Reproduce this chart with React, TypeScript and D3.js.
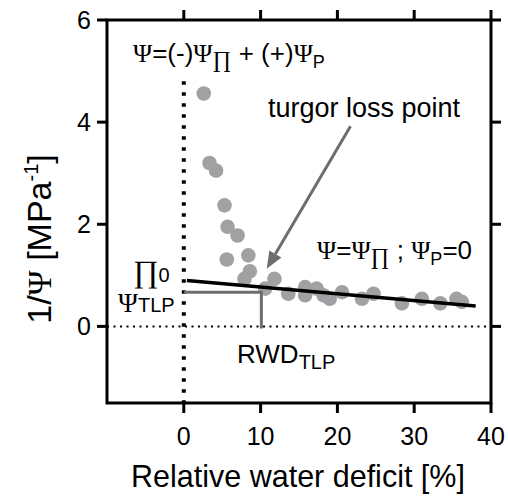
import React from 'react';
import * as d3 from 'd3';

// relative water deficit [%] and 1/psi [MPa^-1]
const rwd = [2.6, 3.35, 4.2, 5.3, 5.7, 7.0, 5.6, 8.4, 8.6, 7.9, 11.8, 10.6, 13.6, 15.8, 15.8, 17.3, 18.2, 19.0, 20.6, 23.2, 24.7, 28.4, 31.0, 33.4, 35.5, 36.2];
const invPsi = [4.56, 3.2, 3.05, 2.37, 1.95, 1.78, 1.31, 1.39, 1.08, 0.93, 0.93, 0.74, 0.64, 0.77, 0.61, 0.74, 0.61, 0.54, 0.67, 0.54, 0.64, 0.45, 0.54, 0.45, 0.54, 0.48];

// linear fit through the osmotic part
const fitIntercept = 0.905;
const fitSlope = -0.0133;
const fitRange = [0.4, 38];

// turgor loss point
const rwdTlp = 10.1;
const psiTlp = 0.67;

// arrow from label to the tlp
const arrowFrom = [21.7, 3.92];
const arrowTo = [10.8, 1.13];

const xTicks = [0, 10, 20, 30, 40];
const yTicks = [0, 2, 4, 6];

const SANS = 'Liberation Sans, Arial, sans-serif';
const SERIF = 'Liberation Serif, Times New Roman, serif';

export default function App() {
    const x = d3.scaleLinear().domain([-10, 40]).range([107, 491]);
    const y = d3.scaleLinear().domain([-1.5, 6]).range([403, 20]);

    const [x0, x1] = x.range();
    const [yb, yt] = y.range();
    const tick = 10;

    const fitLine = d3.line<number>()
        .x(d => x(d))
        .y(d => y(fitIntercept + fitSlope * d));

    // arrow head geometry
    const ax1 = x(arrowFrom[0]), ay1 = y(arrowFrom[1]);
    const ax2 = x(arrowTo[0]), ay2 = y(arrowTo[1]);
    const ang = Math.atan2(ay2 - ay1, ax2 - ax1);
    const headLen = 17, headW = 7;
    const bx = ax2 - headLen * Math.cos(ang), by = ay2 - headLen * Math.sin(ang);
    const head = [
        [ax2, ay2],
        [bx + headW * Math.sin(ang), by - headW * Math.cos(ang)],
        [bx - headW * Math.sin(ang), by + headW * Math.cos(ang)],
    ];

    return (
        <svg width={508} height={496} style={{ position: 'absolute', left: 0, top: 0, background: '#fff' }}>
            {/* zero reference lines */}
            <line x1={x0} x2={x1} y1={y(0)} y2={y(0)} stroke="#000" strokeWidth={2} strokeDasharray="2 4.5" />
            <line x1={x(0)} x2={x(0)} y1={y(4.8)} y2={yb} stroke="#000" strokeWidth={4} strokeDasharray="3.5 7.5" />

            {/* points */}
            {rwd.map((d, i) => (
                <circle key={i} cx={x(d)} cy={y(invPsi[i])} r={7.3} fill="#a1a1a4" />
            ))}

            {/* tlp guide lines */}
            <path d={`M${x(0)},${y(psiTlp)}H${x(rwdTlp)}V${y(-0.04)}`} fill="none" stroke="#6d6d6d" strokeWidth={3} />

            {/* fit */}
            <path d={fitLine(fitRange) || ''} fill="none" stroke="#000" strokeWidth={3.5} />

            {/* arrow */}
            <line x1={ax1} y1={ay1} x2={bx} y2={by} stroke="#6d6d6d" strokeWidth={3} />
            <polygon points={head.map(p => p.join(',')).join(' ')} fill="#6d6d6d" />

            {/* frame + ticks */}
            <rect x={x0} y={yt} width={x1 - x0} height={yb - yt} fill="none" stroke="#000" strokeWidth={3} />
            {xTicks.map(t => (
                <g key={'x' + t}>
                    <line x1={x(t)} x2={x(t)} y1={yb} y2={yb + tick} stroke="#000" strokeWidth={3} />
                    <line x1={x(t)} x2={x(t)} y1={yt} y2={yt - tick} stroke="#000" strokeWidth={3} />
                    <text x={x(t)} y={445} textAnchor="middle" fontFamily={SANS} fontSize={25}>{t}</text>
                </g>
            ))}
            {yTicks.map(t => (
                <g key={'y' + t}>
                    <line x1={x0} x2={x0 - tick} y1={y(t)} y2={y(t)} stroke="#000" strokeWidth={3} />
                    <line x1={x1} x2={x1 + tick} y1={y(t)} y2={y(t)} stroke="#000" strokeWidth={3} />
                    <text x={91} y={y(t) + 9} textAnchor="end" fontFamily={SANS} fontSize={25}>{t}</text>
                </g>
            ))}

            {/* axis titles */}
            <text x={131} y={487} fontFamily={SANS} fontSize={30.5}>Relative water deficit [%]</text>
            <text transform="translate(51,239) rotate(-90)" textAnchor="middle" fontFamily={SANS} fontSize={34}>
                1/<tspan fontFamily={SERIF}>Ψ</tspan> [MPa<tspan fontSize={20} dy={-13}>-1</tspan><tspan dy={13}>]</tspan>
            </text>

            {/* annotations */}
            <text x={133} y={62} fontFamily={SANS} fontSize={26}>
                <tspan fontFamily={SERIF}>Ψ</tspan>=(-)<tspan fontFamily={SERIF}>Ψ</tspan>
                <tspan fontFamily={SERIF} fontSize={23} dy={5}>∏</tspan>
                <tspan dy={-5}> + (+)</tspan><tspan fontFamily={SERIF}>Ψ</tspan>
                <tspan fontSize={18} dy={6}>P</tspan>
            </text>
            <text x={268} y={117} fontFamily={SANS} fontSize={27}>turgor loss point</text>
            <text x={317} y={259} fontFamily={SANS} fontSize={26}>
                <tspan fontFamily={SERIF}>Ψ</tspan>=<tspan fontFamily={SERIF}>Ψ</tspan>
                <tspan fontFamily={SERIF} fontSize={23} dy={5}>∏</tspan>
                <tspan dy={-5}> ; </tspan><tspan fontFamily={SERIF}>Ψ</tspan>
                <tspan fontSize={18} dy={6}>P</tspan><tspan dy={-6}>=0</tspan>
            </text>
            <text x={133} y={282} fontFamily={SERIF} fontSize={31}>
                ∏<tspan fontFamily={SANS} fontSize={20}>0</tspan>
            </text>
            <text x={118} y={312} fontFamily={SERIF} fontSize={27}>
                Ψ<tspan fontFamily={SANS} fontSize={20}>TLP</tspan>
            </text>
            <text x={237} y={363} fontFamily={SANS} fontSize={26}>
                RWD<tspan fontSize={20} dy={6}>TLP</tspan>
            </text>
        </svg>
    );
}
